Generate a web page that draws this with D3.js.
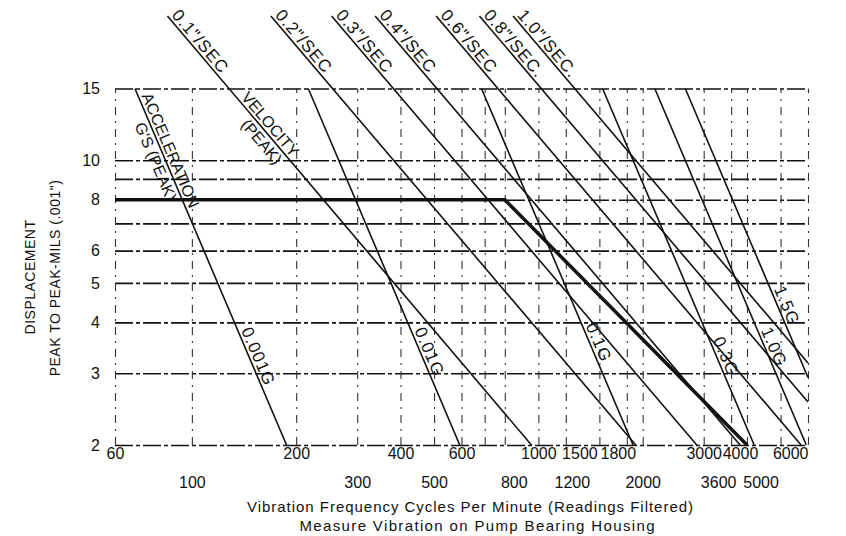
<!DOCTYPE html>
<html><head><meta charset="utf-8">
<script src="https://cdn.jsdelivr.net/npm/d3@7"></script>
<style>
body{margin:0;background:#fff}
svg text{font-family:"Liberation Sans",Arial,sans-serif;fill:#111}
</style>
</head><body>
<svg id="c" width="846" height="536"></svg>
<script>
// ---------------- data ----------------
const xTicksTop    = [60,200,400,600,1000,1500,1800,3000,4000,6000];
const xTicksBottom = [100,300,500,800,1200,2000,3600,5000];
const xGridValues  = [60,100,200,300,400,500,600,700,800,1000,1200,1500,1800,2000,3000,3600,4000,5000,6000];
const yTickValues  = [2,3,4,5,6,8,10,15];
const yGridValues  = [2,3,4,5,6,7,8,9,10,15];

// velocity (peak) lines: start (above frame) and end points, cpm / mils
const velLabels    = ['0.1"/SEC','0.2"/SEC','0.3"/SEC','0.4"/SEC','0.6"/SEC','0.8"/SEC.','1.0"/SEC.'];
const velStartCpm  = [85,169,253,338,507,676,845];
const velStartMils = [22.6,22.6,22.6,22.6,22.6,22.6,22.6];
const velEndCpm    = [955,1910,2865,3820,5730,6000,6000];
const velEndMils   = [2,2,2,2,2,2.55,3.18];

// acceleration (peak) lines
const accLabels    = ['0.001G','0.01G','0.1G','0.3G','1.0G','1.5G'];
const accStartCpm  = [68.5,216.7,685,1532,2167,2654];
const accStartMils = [15,15,15,15,15,15];
const accEndCpm    = [187.6,593,1876,4195,5933,6000];
const accEndMils   = [2,2,2,2,2,2.93];

// pump vibration limit (thick line)
const limitCpm  = [60,800,4000];
const limitMils = [8,8,2];

// ---------------- layout ----------------
const accLabelAtMils = [3.8,3.8,3.9,3.6,3.8,4.8];
const tickNudge = {1500:-20,1800:-9,3600:-13,4000:-7,5000:-20,800:9,1200:6};

const svg = d3.select('#c');
const x = d3.scaleLog().domain([60,6000]).range([115,808]);
const y = d3.scaleLog().domain([2,15]).range([445,88.5]);
const ink = '#111';

// horizontal grid
const gh = svg.append('g').attr('transform',`translate(${x(60)},0)`)
  .call(d3.axisLeft(y).tickValues(yGridValues).tickSize(-(x(6000)-x(60))).tickFormat(''));
gh.select('.domain').remove();
gh.selectAll('line').attr('stroke',ink).attr('stroke-width',1.6).attr('stroke-dasharray','18,3,4,3');

// vertical grid
const gv = svg.append('g').attr('transform',`translate(0,${y(2)})`)
  .call(d3.axisBottom(x).tickValues(xGridValues).tickSize(-(y(2)-y(15))).tickFormat(''));
gv.select('.domain').remove();
gv.selectAll('line').attr('stroke','#333').attr('stroke-width',1.1).attr('stroke-dasharray','8,6,2,6');

// y tick labels
const ay = svg.append('g').attr('transform',`translate(${x(60)},0)`)
  .call(d3.axisLeft(y).tickValues(yTickValues).tickSize(0).tickPadding(15).tickFormat(d3.format('d')));
ay.select('.domain').remove();
ay.selectAll('text').style('font-size','16px').attr('font-family',null);

// x tick labels, two rows
function xRow(vals, pad){
  const g = svg.append('g').attr('transform',`translate(0,${y(2)})`)
    .call(d3.axisBottom(x).tickValues(vals).tickSize(0).tickPadding(pad).tickFormat(d3.format('d')));
  g.select('.domain').remove();
  g.selectAll('text').style('font-size','16px').attr('font-family',null)
    .attr('dx', d => tickNudge[d] || 0)
    .attr('text-anchor', d => d===6000 ? 'end' : 'middle');
}
xRow(xTicksTop, 3);
xRow(xTicksBottom, 32);

// helpers
function seg(c1,m1,c2,m2){ return [[x(c1),y(m1)],[x(c2),y(m2)]]; }
function angle(p){ return Math.atan2(p[1][1]-p[0][1], p[1][0]-p[0][0])*180/Math.PI; }
function atMils(p, m){ const py=y(m); const t=(py-p[0][1])/(p[1][1]-p[0][1]); return [p[0][0]+t*(p[1][0]-p[0][0]), py]; }
const lineGen = d3.line();

// velocity lines
velLabels.forEach((lab,i)=>{
  const p = seg(velStartCpm[i],velStartMils[i],velEndCpm[i],velEndMils[i]);
  svg.append('path').attr('d',lineGen(p)).attr('fill','none').attr('stroke',ink).attr('stroke-width',1.6);
  svg.append('text').attr('transform',`translate(${p[0][0]},${p[0][1]}) rotate(${angle(p)})`)
    .attr('dy',-3).attr('dx',2).style('font-size','17px').style('letter-spacing','1px').text(lab);
});

// acceleration lines
accLabels.forEach((lab,i)=>{
  const p = seg(accStartCpm[i],accStartMils[i],accEndCpm[i],accEndMils[i]);
  svg.append('path').attr('d',lineGen(p)).attr('fill','none').attr('stroke',ink).attr('stroke-width',1.6);
  const q = atMils(p, accLabelAtMils[i]);
  svg.append('text').attr('transform',`translate(${q[0]},${q[1]}) rotate(${angle(p)})`)
    .attr('dy',-3).style('font-size','17px').style('letter-spacing','1px').text(lab);
});

// family captions along first lines
{
  const pa = seg(accStartCpm[0],accStartMils[0],accEndCpm[0],accEndMils[0]);
  let q = atMils(pa, 14.3);
  svg.append('text').attr('transform',`translate(${q[0]},${q[1]}) rotate(${angle(pa)})`)
    .attr('dy',-3).style('font-size','16px').text('ACCELERATION');
  q = atMils(pa, 12.6);
  svg.append('text').attr('transform',`translate(${q[0]},${q[1]}) rotate(${angle(pa)})`)
    .attr('dy',15).style('font-size','16px').text("G'S (PEAK)");
  const pv = seg(velStartCpm[0],velStartMils[0],velEndCpm[0],velEndMils[0]);
  q = atMils(pv, 14.1);
  svg.append('text').attr('transform',`translate(${q[0]},${q[1]}) rotate(${angle(pv)})`)
    .attr('dy',-3).style('font-size','16px').text('VELOCITY');
  q = atMils(pv, 12.9);
  svg.append('text').attr('transform',`translate(${q[0]},${q[1]}) rotate(${angle(pv)})`)
    .attr('dy',15).style('font-size','16px').text('(PEAK)');
}

// limit line
svg.append('path')
  .attr('d', lineGen(limitCpm.map((c,i)=>[x(c),y(limitMils[i])])))
  .attr('fill','none').attr('stroke',ink).attr('stroke-width',3.5).attr('stroke-linejoin','miter');

// axis titles
svg.append('text').attr('x',470).attr('y',512).attr('text-anchor','middle')
  .attr('textLength',446).attr('lengthAdjust','spacing').style('font-size','15px')
  .text('Vibration Frequency Cycles Per Minute (Readings Filtered)');
svg.append('text').attr('x',477).attr('y',531).attr('text-anchor','middle')
  .attr('textLength',355).attr('lengthAdjust','spacing').style('font-size','15px')
  .text('Measure Vibration on Pump Bearing Housing');
svg.append('text').attr('transform','translate(35,277) rotate(-90)').attr('text-anchor','middle')
  .style('font-size','14px').style('letter-spacing','0.5px').text('DISPLACEMENT');
svg.append('text').attr('transform','translate(60,278) rotate(-90)').attr('text-anchor','middle')
  .style('font-size','14px').style('letter-spacing','0.5px').text('PEAK TO PEAK-MILS (.001")');
</script>
</body></html>
